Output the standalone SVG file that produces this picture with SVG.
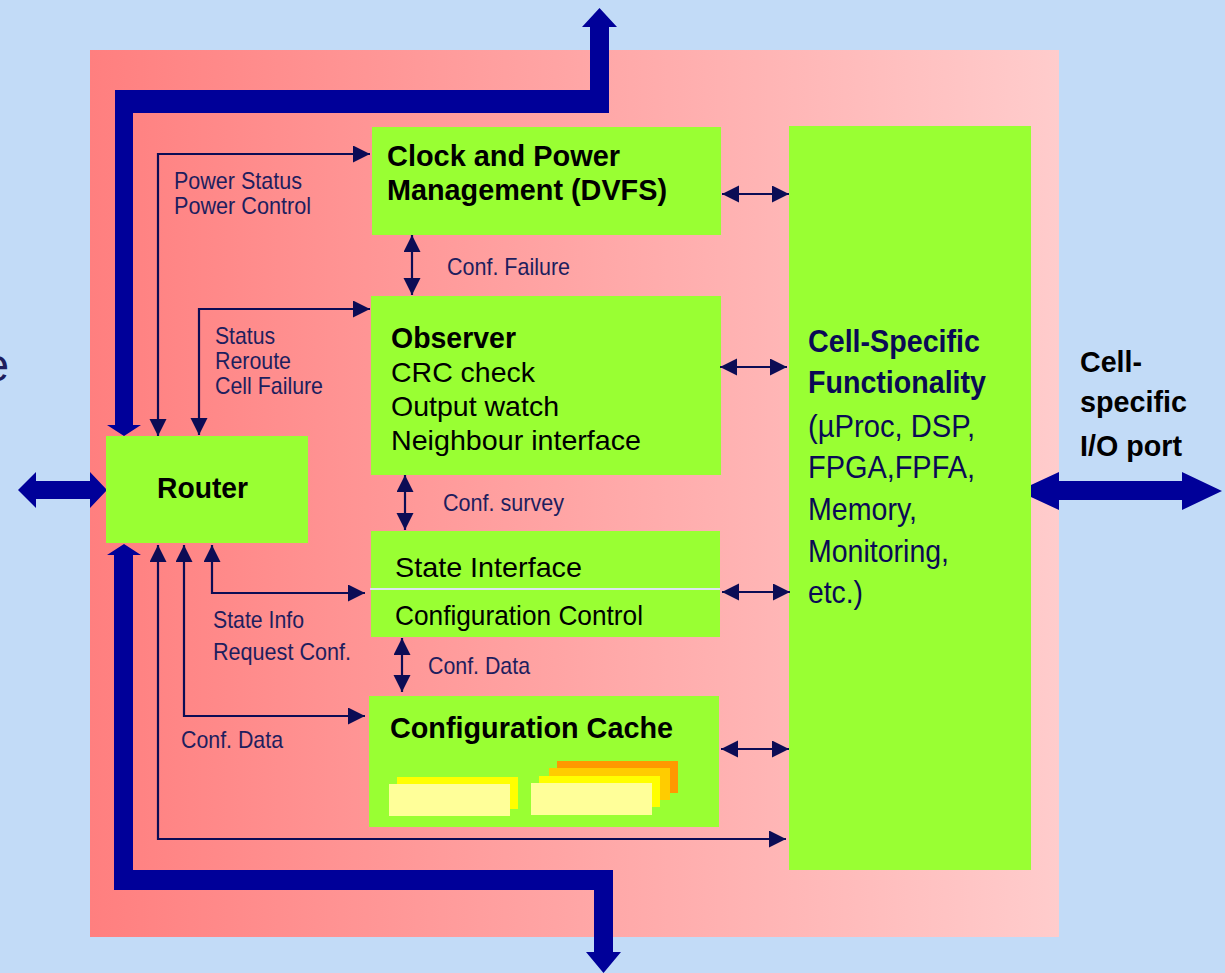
<svg xmlns="http://www.w3.org/2000/svg" width="1225" height="973" viewBox="0 0 1225 973">
  <style>
    .box { fill: #99FF33; }
    .lbl { font-family: "Liberation Sans", Arial, sans-serif; font-size: 24px; fill: #1E1E5E; }
    .bt { font-family: "Liberation Sans", Arial, sans-serif; font-size: 28.5px; fill: #000000; }
    .bb { font-family: "Liberation Sans", Arial, sans-serif; font-size: 30px; font-weight: bold; fill: #000000; }
    .cs { font-family: "Liberation Sans", Arial, sans-serif; font-size: 32px; fill: #0A0A55; }
    .csb { font-weight: bold; }
    .io { font-family: "Liberation Sans", Arial, sans-serif; font-size: 30px; font-weight: bold; fill: #000000; }
    .bus { fill: #000099; }
    .wire { fill: none; stroke: #0C0C55; stroke-width: 2.2; }
    .dbl { marker-start: url(#head); marker-end: url(#head); }
    .one { marker-end: url(#head); }
  </style>
  <defs>
    <linearGradient id="cellGrad" x1="0" y1="0" x2="1" y2="0">
      <stop offset="0" stop-color="#FF7F7F"/>
      <stop offset="1" stop-color="#FFCCCC"/>
    </linearGradient>
    <marker id="head" markerUnits="userSpaceOnUse" markerWidth="18" markerHeight="18" refX="17" refY="8.5" orient="auto-start-reverse">
      <path d="M0,0 L17,8.5 L0,17 Z" fill="#0C0C55"/>
    </marker>
  </defs>

  <!-- page background and cell body -->
  <rect x="0" y="0" width="1225" height="973" fill="#C2DBF7"/>
  <rect x="90" y="50" width="969" height="887" fill="url(#cellGrad)"/>

  <!-- partially visible caption at the left edge -->
  <text x="9" y="381" text-anchor="end" font-family="Liberation Sans, Arial, sans-serif" font-size="46" fill="#1E1E5E">e</text>

  <!-- thick buses -->
  <g id="buses">
    <path class="bus" d="M115,425 L107,425 L124,436 L141,425 L133,425 L133,113 L609,113 L609,27 L617,27 L599.5,8 L582,27 L590,27 L590,90 L115,90 Z"/>
    <path class="bus" d="M114,555 L107,555 L124,544 L141,555 L133,555 L133,870 L613,870 L613,952 L621,952 L603.5,973 L586,952 L594,952 L594,890 L114,890 Z"/>
    <path class="bus" d="M18,490 L36,472 L36,481 L90,481 L90,472 L107,490 L90,508 L90,499 L36,499 L36,508 Z"/>
    <path class="bus" d="M1018,491 L1059,472 L1059,481 L1182,481 L1182,472 L1222,491 L1182,510 L1182,500 L1059,500 L1059,510 Z"/>
  </g>

  <!-- nodes -->
  <g id="router">
    <rect class="box" x="106" y="436" width="202" height="107"/>
    <text class="bb" x="157" y="498" font-size="32" textLength="91" lengthAdjust="spacingAndGlyphs">Router</text>
  </g>

  <g id="clock-power">
    <rect class="box" x="372" y="127" width="349" height="108"/>
    <text class="bb" x="387" y="166" textLength="233" lengthAdjust="spacingAndGlyphs">Clock and Power</text>
    <text class="bb" x="387" y="200" textLength="280" lengthAdjust="spacingAndGlyphs">Management (DVFS)</text>
  </g>

  <g id="observer">
    <rect class="box" x="371" y="296" width="350" height="179"/>
    <text class="bb" x="391" y="348" textLength="125" lengthAdjust="spacingAndGlyphs">Observer</text>
    <text class="bt" x="391" y="382" textLength="144" lengthAdjust="spacingAndGlyphs">CRC check</text>
    <text class="bt" x="391" y="416" textLength="168" lengthAdjust="spacingAndGlyphs">Output watch</text>
    <text class="bt" x="391" y="450" textLength="250" lengthAdjust="spacingAndGlyphs">Neighbour interface</text>
  </g>

  <g id="state-interface">
    <rect class="box" x="371" y="531" width="349" height="106"/>
    <line x1="370" y1="589" x2="720" y2="589" stroke="#DCE6F0" stroke-width="2"/>
    <text class="bt" x="395" y="577" textLength="187" lengthAdjust="spacingAndGlyphs">State Interface</text>
    <text class="bt" x="395" y="625" textLength="248" lengthAdjust="spacingAndGlyphs">Configuration Control</text>
  </g>

  <g id="config-cache">
    <rect class="box" x="369" y="696" width="350" height="131"/>
    <text class="bb" x="390" y="738" textLength="283" lengthAdjust="spacingAndGlyphs">Configuration Cache</text>
    <rect x="397" y="777" width="121" height="32" fill="#FFFF00"/>
    <rect x="389" y="784" width="121" height="32" fill="#FFFF99"/>
    <rect x="557" y="761" width="121" height="32" fill="#FF9900"/>
    <rect x="549" y="768" width="121" height="32" fill="#FFCC00"/>
    <rect x="539" y="776" width="121" height="31" fill="#FFFF00"/>
    <rect x="531" y="783" width="121" height="32" fill="#FFFF99"/>
  </g>

  <g id="cell-specific">
    <rect class="box" x="789" y="126" width="242" height="744"/>
    <text class="cs csb" x="808" y="352" textLength="172" lengthAdjust="spacingAndGlyphs">Cell-Specific</text>
    <text class="cs csb" x="808" y="393" textLength="178" lengthAdjust="spacingAndGlyphs">Functionality</text>
    <text class="cs" x="808" y="437" textLength="167" lengthAdjust="spacingAndGlyphs">(µProc, DSP,</text>
    <text class="cs" x="808" y="478" textLength="167" lengthAdjust="spacingAndGlyphs">FPGA,FPFA,</text>
    <text class="cs" x="808" y="520" textLength="109" lengthAdjust="spacingAndGlyphs">Memory,</text>
    <text class="cs" x="808" y="562" textLength="141" lengthAdjust="spacingAndGlyphs">Monitoring,</text>
    <text class="cs" x="808" y="603" textLength="55" lengthAdjust="spacingAndGlyphs">etc.)</text>
  </g>

  <g id="io-port">
    <text class="io" x="1080" y="372" textLength="62" lengthAdjust="spacingAndGlyphs">Cell-</text>
    <text class="io" x="1080" y="412" textLength="107" lengthAdjust="spacingAndGlyphs">specific</text>
    <text class="io" x="1080" y="456" textLength="102" lengthAdjust="spacingAndGlyphs">I/O port</text>
  </g>

  <!-- thin connectors -->
  <g id="connectors">
    <path class="wire dbl" d="M370,154 H158 V436"/>
    <path class="wire dbl" d="M370,309 H199 V435"/>
    <path class="wire dbl" d="M365,593 H212 V545"/>
    <path class="wire dbl" d="M365,716 H184 V545"/>
    <path class="wire dbl" d="M786,839 H158 V545"/>

    <path class="wire dbl" d="M412,235 V295"/>
    <path class="wire dbl" d="M405,475 V530"/>
    <path class="wire dbl" d="M402,638 V692"/>

    <path class="wire dbl" d="M722,194 H789"/>
    <path class="wire dbl" d="M720,367 H787"/>
    <path class="wire dbl" d="M722,592 H790"/>
    <path class="wire dbl" d="M721,749 H789"/>
  </g>

  <!-- connector labels -->
  <g id="labels">
    <text class="lbl" x="174" y="189" textLength="128" lengthAdjust="spacingAndGlyphs">Power Status</text>
    <text class="lbl" x="174" y="214" textLength="137" lengthAdjust="spacingAndGlyphs">Power Control</text>
    <text class="lbl" x="215" y="344" textLength="60" lengthAdjust="spacingAndGlyphs">Status</text>
    <text class="lbl" x="215" y="369" textLength="76" lengthAdjust="spacingAndGlyphs">Reroute</text>
    <text class="lbl" x="215" y="394" textLength="108" lengthAdjust="spacingAndGlyphs">Cell Failure</text>
    <text class="lbl" x="447" y="275" textLength="123" lengthAdjust="spacingAndGlyphs">Conf. Failure</text>
    <text class="lbl" x="443" y="511" textLength="121" lengthAdjust="spacingAndGlyphs">Conf. survey</text>
    <text class="lbl" x="428" y="674" textLength="102" lengthAdjust="spacingAndGlyphs">Conf. Data</text>
    <text class="lbl" x="213" y="628" textLength="91" lengthAdjust="spacingAndGlyphs">State Info</text>
    <text class="lbl" x="213" y="660" textLength="138" lengthAdjust="spacingAndGlyphs">Request Conf.</text>
    <text class="lbl" x="181" y="748" textLength="102" lengthAdjust="spacingAndGlyphs">Conf. Data</text>
  </g>
</svg>
